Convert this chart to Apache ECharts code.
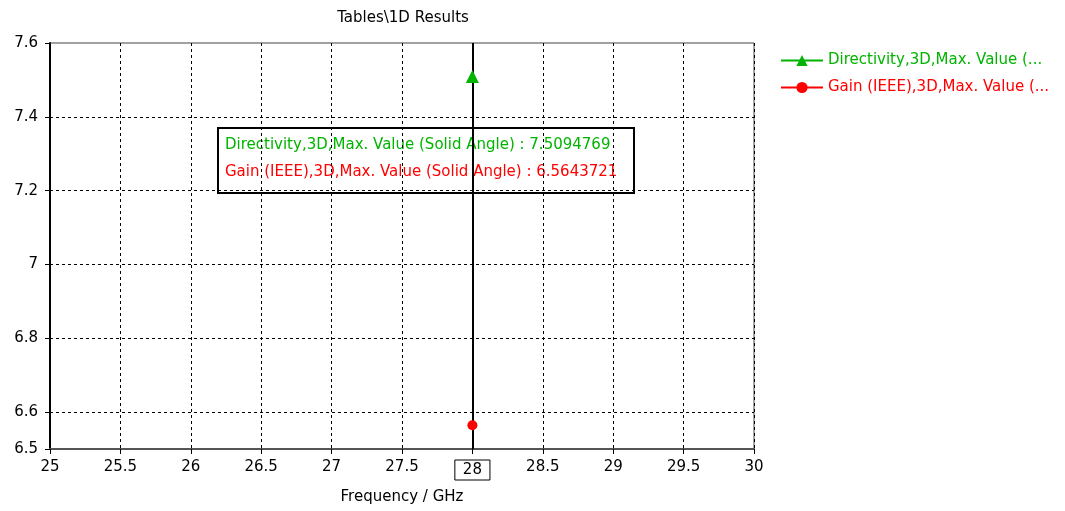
<!DOCTYPE html>
<html>
<head>
<meta charset="utf-8">
<script src="https://cdn.jsdelivr.net/npm/echarts@6/dist/echarts.min.js"></script>
<style>
  html, body { margin: 0; padding: 0; background: #fff; }
  #chart { width: 1065px; height: 511px; }
</style>
</head>
<body>
<div id="chart"></div>
<script>
// Result values at the evaluated frequency
const frequency = [28];
const directivity = [7.5094769];
const gain = [6.5643721];
const seriesNames = ['Directivity,3D,Max. Value (Solid Angle)', 'Gain (IEEE),3D,Max. Value (Solid Angle)'];
const legendNames = ['Directivity,3D,Max. Value (...', 'Gain (IEEE),3D,Max. Value (...'];
const yTicks = [6.5, 6.6, 6.8, 7, 7.2, 7.4, 7.6];
const yGrid = [6.6, 6.8, 7, 7.2, 7.4];

const FONT = '"DejaVu Sans", Verdana, sans-serif';
const FS = 15;
const GREEN = '#00b400';
const RED = '#ff0000';

const chart = echarts.init(document.getElementById('chart'), null, { renderer: 'canvas' });

const option = {
  animation: false,
  backgroundColor: '#fff',
  textStyle: { fontFamily: FONT },
  title: {
    text: 'Tables\\1D Results',
    left: 398, top: 6, textAlign: 'center',
    textStyle: { fontFamily: FONT, fontSize: FS, fontWeight: 'normal', color: '#000' }
  },
  grid: {
    left: 50, right: 311, top: 43, bottom: 62,
    show: true, borderColor: '#444', borderWidth: 1, backgroundColor: '#fff'
  },
  legend: {
    orient: 'vertical', left: 775, top: 48,
    itemWidth: 42, itemHeight: 14, itemGap: 12,
    textStyle: { fontFamily: FONT, fontSize: FS },
    data: [
      { name: legendNames[0], textStyle: { color: GREEN } },
      { name: legendNames[1], textStyle: { color: RED } }
    ]
  },
  xAxis: {
    type: 'value', min: 25, max: 30, interval: 0.5,
    name: 'Frequency / GHz', nameLocation: 'middle', nameGap: 41,
    nameTextStyle: { fontFamily: FONT, fontSize: FS, color: '#000' },
    axisLine: { show: true, onZero: false, lineStyle: { color: '#555', width: 2 } },
    axisTick: { show: true, inside: false, length: 5, lineStyle: { color: '#000' } },
    axisLabel: {
      margin: 11, fontFamily: FONT, fontSize: FS, color: '#000',
      formatter: v => (frequency.indexOf(v) >= 0 ? '{box|' + v + '}' : String(v)),
      rich: {
        box: {
          fontFamily: FONT, fontSize: FS, color: '#000',
          borderColor: '#000', borderWidth: 1, padding: [3, 8, 2, 8]
        }
      }
    },
    splitLine: { show: true, lineStyle: { color: '#000', type: [3, 3], width: 1 } }
  },
  yAxis: {
    type: 'value', min: 6.5, max: 7.6,
    axisLine: { show: true, onZero: false, lineStyle: { color: '#000', width: 2 } },
    axisTick: { show: true, inside: false, length: 5, customValues: yTicks, lineStyle: { color: '#000' } },
    axisLabel: {
      margin: 12, fontFamily: FONT, fontSize: FS, color: '#000',
      customValues: yTicks, formatter: v => String(v)
    },
    splitLine: { show: false }
  },
  series: [
    {
      name: legendNames[0], type: 'line',
      data: frequency.map((f, i) => [f, directivity[i]]),
      symbol: 'triangle', symbolSize: 13,
      itemStyle: { color: GREEN }, lineStyle: { color: GREEN, width: 2 },
      z: 5,
      markLine: {
        silent: true, symbol: 'none', animation: false,
        label: { show: false },
        lineStyle: { color: '#000', type: 'solid', width: 2 },
        data: [{ xAxis: frequency[0] }]
      }
    },
    {
      name: legendNames[1], type: 'line',
      data: frequency.map((f, i) => [f, gain[i]]),
      symbol: 'circle', symbolSize: 10,
      itemStyle: { color: RED }, lineStyle: { color: RED, width: 2 },
      z: 5,
      markLine: {
        silent: true, symbol: 'none', animation: false,
        label: { show: false },
        lineStyle: { color: '#000', type: [3, 3], width: 1 },
        data: yGrid.map(v => ({ yAxis: v }))
      }
    }
  ],
  graphic: [
    {
      type: 'group', left: 217, top: 127, z: 100,
      children: [
        {
          type: 'rect', shape: { x: 0, y: 0, width: 416, height: 65 },
          style: { fill: '#fff', stroke: '#000', lineWidth: 2 }
        },
        {
          type: 'text', x: 7, y: 17,
          style: {
            text: seriesNames[0] + ' : ' + directivity[0],
            fill: GREEN, font: FS + 'px ' + FONT, verticalAlign: 'middle'
          }
        },
        {
          type: 'text', x: 7, y: 44,
          style: {
            text: seriesNames[1] + ' : ' + gain[0],
            fill: RED, font: FS + 'px ' + FONT, verticalAlign: 'middle'
          }
        }
      ]
    }
  ]
};

chart.setOption(option);
</script>
</body>
</html>
